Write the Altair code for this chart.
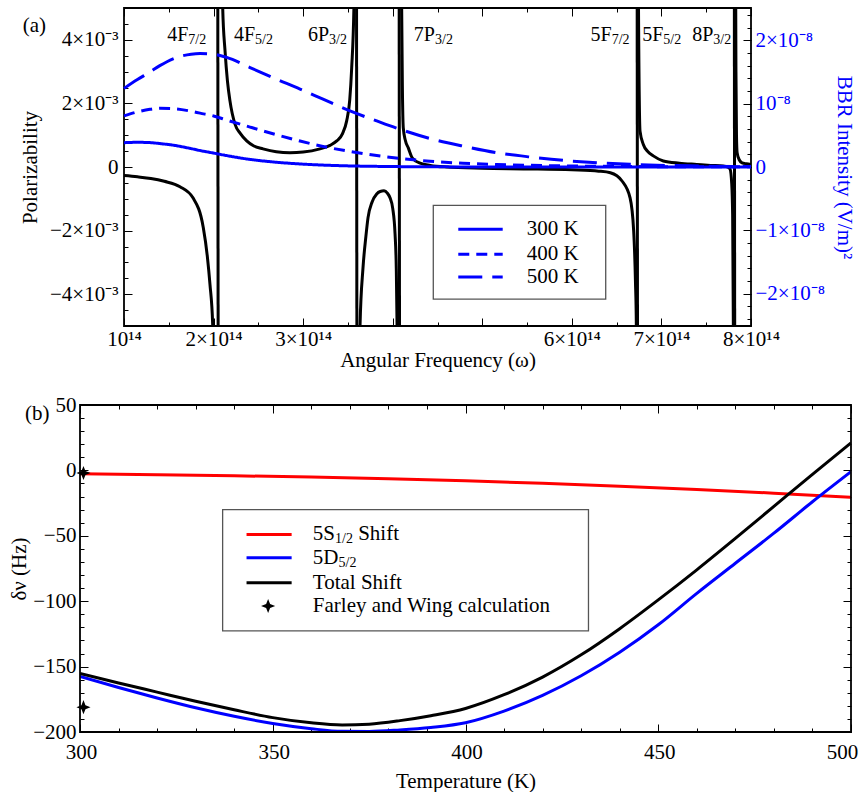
import altair as alt
import pandas as pd

FONT = "Liberation Serif"
LFONT = "Liberation Serif, Times New Roman, serif"
FS = 21

# ---------------- panel (a): polarizability (black), branches between resonances ----------------
pol_w_0 = [1.00e14, 1.15e14, 1.30e14, 1.45e14, 1.625e14, 1.77e14, 1.885e14, 1.93e14, 1.96e14, 1.99e14, 2.005e14]
pol_a_0 = [-0.27e-3, -0.31e-3, -0.36e-3, -0.45e-3, -0.62e-3, -0.97e-3, -1.9e-3, -2.8e-3, -3.7e-3, -4.95e-3, -8e-3]
pol_w_1 = [2.046e14, 2.052e14]
pol_a_1 = [8e-3, -8e-3]
pol_w_2 = [2.095e14, 2.102e14, 2.128e14, 2.155e14, 2.183e14, 2.239e14, 2.30e14, 2.37e14, 2.45e14, 2.552e14,
           2.70e14, 2.853e14, 3.00e14, 3.188e14, 3.30e14, 3.375e14, 3.44e14, 3.486e14, 3.52e14, 3.542e14, 3.568e14, 3.575e14]
pol_a_2 = [8e-3, 5.0e-3, 3.65e-3, 2.7e-3, 2.08e-3, 1.35e-3, 1.05e-3, 0.82e-3, 0.66e-3, 0.57e-3,
           0.48e-3, 0.45e-3, 0.47e-3, 0.57e-3, 0.68e-3, 0.82e-3, 1.05e-3, 1.45e-3, 2.1e-3, 3.12e-3, 5.2e-3, 8e-3]
pol_w_3 = [3.595e14, 3.601e14]
pol_a_3 = [8e-3, -8e-3]
pol_w_4 = [3.628e14, 3.635e14, 3.668e14, 3.70e14, 3.724e14, 3.77e14, 3.821e14, 3.86e14, 3.903e14, 3.94e14,
           3.97e14, 4.00e14, 4.026e14, 4.04e14, 4.048e14, 4.055e14]
pol_a_4 = [-8e-3, -5.0e-3, -3.18e-3, -2.2e-3, -1.6e-3, -1.1e-3, -0.85e-3, -0.77e-3, -0.75e-3, -0.82e-3,
           -0.97e-3, -1.3e-3, -2.1e-3, -3.2e-3, -4.9e-3, -8e-3]
pol_w_5 = [4.071e14, 4.077e14]
pol_a_5 = [8e-3, -8e-3]
pol_w_6 = [4.095e14, 4.100e14, 4.108e14, 4.118e14, 4.14e14, 4.174e14, 4.22e14, 4.305e14, 4.42e14, 4.6e14,
           5.0e14, 5.5e14, 6.0e14, 6.3e14, 6.43e14, 6.56e14, 6.65e14, 6.69e14, 6.71e14, 6.72e14, 6.725e14]
pol_a_6 = [8e-3, 5.0e-3, 2.5e-3, 1.23e-3, 0.85e-3, 0.6e-3, 0.28e-3, 0.12e-3, 0.05e-3, 0.0,
           -0.04e-3, -0.06e-3, -0.09e-3, -0.13e-3, -0.18e-3, -0.44e-3, -0.97e-3, -2.0e-3, -3.6e-3, -5.0e-3, -8e-3]
pol_w_7 = [6.728e14, 6.734e14]
pol_a_7 = [8e-3, -8e-3]
pol_w_8 = [6.738e14, 6.744e14, 6.761e14, 6.798e14, 6.85e14, 6.909e14, 7.021e14, 7.2e14, 7.394e14, 7.55e14,
           7.688e14, 7.74e14, 7.766e14, 7.785e14, 7.795e14, 7.803e14, 7.807e14]
pol_a_8 = [8e-3, 5.0e-3, 1.13e-3, 0.71e-3, 0.48e-3, 0.35e-3, 0.19e-3, 0.12e-3, 0.08e-3, 0.05e-3,
           0.03e-3, 0.0, -0.06e-3, -0.53e-3, -1.5e-3, -5.0e-3, -8e-3]
pol_w_9 = [7.813e14, 7.819e14]
pol_a_9 = [8e-3, -8e-3]
pol_w_10 = [7.826e14, 7.832e14, 7.838e14, 7.845e14, 7.87e14, 7.9e14, 7.95e14, 8.0e14]
pol_a_10 = [8e-3, 3.0e-3, 1.0e-3, 0.45e-3, 0.22e-3, 0.13e-3, 0.1e-3, 0.08e-3]

# resonance labels
res_main = ["4F", "4F", "6P", "7P", "5F", "5F", "8P"]
res_sub = ["7/2", "5/2", "3/2", "3/2", "7/2", "5/2", "3/2"]
res_w = [1.718e14, 2.463e14, 3.289e14, 4.472e14, 6.445e14, 7.021e14, 7.579e14]
res_a = [3.96e-3] * 7

# BBR intensity (blue)
bbr_w = [1.0e14, 1.15e14, 1.29e14, 1.40e14, 1.569e14, 1.75e14, 1.849e14, 2.0e14, 2.147e14, 2.407e14, 2.663e14,
         2.965e14, 3.222e14, 3.523e14, 3.821e14, 4.08e14, 4.416e14, 4.785e14, 5.161e14, 5.533e14, 5.901e14,
         6.278e14, 6.649e14, 7.319e14, 8.0e14]
bbr_300 = [0.384e-8, 0.39e-8, 0.385e-8, 0.37e-8, 0.34e-8, 0.29e-8, 0.26e-8, 0.22e-8, 0.18e-8, 0.12e-8, 0.08e-8,
           0.048e-8, 0.03e-8, 0.017e-8, 0.01e-8, 0.006e-8, 0.003e-8, 0.0015e-8, 0.0008e-8, 0.0004e-8, 0.0002e-8,
           0.0001e-8, 0.0, 0.0, 0.0]
bbr_400 = [0.806e-8, 0.87e-8, 0.91e-8, 0.927e-8, 0.92e-8, 0.88e-8, 0.85e-8, 0.806e-8, 0.74e-8, 0.63e-8, 0.525e-8,
           0.41e-8, 0.325e-8, 0.245e-8, 0.18e-8, 0.135e-8, 0.09e-8, 0.06e-8, 0.04e-8, 0.027e-8, 0.018e-8,
           0.012e-8, 0.008e-8, 0.004e-8, 0.002e-8]
bbr_500 = [1.24e-8, 1.38e-8, 1.50e-8, 1.60e-8, 1.72e-8, 1.78e-8, 1.79e-8, 1.78e-8, 1.73e-8, 1.57e-8, 1.41e-8,
           1.23e-8, 1.07e-8, 0.885e-8, 0.727e-8, 0.596e-8, 0.45e-8, 0.33e-8, 0.226e-8, 0.158e-8, 0.105e-8,
           0.068e-8, 0.042e-8, 0.018e-8, 0.007e-8]
temps = ["300 K", "400 K", "500 K"]

# legend (a), placed in data coordinates of the BBR axis
leg_a_box_w = [4.453e14, 6.378e14]
leg_a_box_b = [-0.605e-8, -2.085e-8]
leg_a_line_w = [4.732e14, 5.228e14]
leg_a_text_w = 5.496e14
leg_a_rows = [-0.984e-8, -1.379e-8, -1.738e-8]

# ---------------- panel (b): frequency shift vs temperature ----------------
t_red = [300, 320, 340, 360, 380, 400, 420, 440, 460, 480, 500]
v_red = [-2.6, -3.3, -4.1, -5.1, -6.4, -8.0, -9.9, -12.1, -14.6, -17.4, -20.5]
t_bt = [300, 310, 320, 330, 340, 350, 360, 368, 375, 383, 391, 400, 410, 420, 430, 440, 450, 460, 470, 480,
        490, 500]
v_blue = [-157.5, -166, -174, -181.5, -188, -193.5, -197.5, -199.5, -199.6, -198.4, -196.5, -192.9, -184, -172,
          -157, -139, -118, -94, -71, -48, -24, -1]
v_black = [-155.3, -162.5, -169.5, -176.5, -183, -189, -193, -194.6, -194, -191.3, -187.5, -182, -171.5, -158,
           -141, -121, -99, -76, -52, -27.5, -3, 21]
series = ["5S1/2 Shift", "5D5/2", "Total Shift"]
farley_t = [300.9, 300.9]
farley_v = [-181, -2]

leg_b_box_t = [337.0, 431.9]
leg_b_box_v = [-29.95, -122.7]
leg_b_line_t = [343.2, 354.9]
leg_b_star_t = 348.8
leg_b_text_t = 360.4
leg_b_rows = [-49.0, -66.8, -85.9, -103.7]
leg_b_main = ["5S", "5D", "Total Shift", "Farley and Wing calculation"]

STAR = "M0,-1L0.28,-0.28L1,0L0.28,0.28L0,1L-0.28,0.28L-1,0L-0.28,-0.28Z"


def ax(orient, values, size, shift=0, labels=False, **kw):
    d = dict(orient=orient, values=values, tickSize=size, offset=-(size + shift), domain=False, grid=False,
             ticks=True, tickColor="black", tickWidth=1, labels=labels, labelOverlap=False,
             labelFont=LFONT, labelFontSize=FS, titleFont=FONT, titleFontSize=FS, titleFontWeight="normal")
    if not labels:
        d["title"] = None
    d.update(kw)
    return alt.Axis(**d)


# ---------------- build panel (a) ----------------
pol_ws = [pol_w_0, pol_w_1, pol_w_2, pol_w_3, pol_w_4, pol_w_5, pol_w_6, pol_w_7, pol_w_8, pol_w_9, pol_w_10]
pol_as = [pol_a_0, pol_a_1, pol_a_2, pol_a_3, pol_a_4, pol_a_5, pol_a_6, pol_a_7, pol_a_8, pol_a_9, pol_a_10]
pol_df = pd.concat([pd.DataFrame({"w": w, "a": a, "seg": i}) for i, (w, a) in enumerate(zip(pol_ws, pol_as))])
res_df = pd.DataFrame({"w": res_w, "a": res_a, "main": res_main, "sub": res_sub})
bbr_df = pd.concat([pd.DataFrame({"w": bbr_w, "b": v, "temp": t}) for t, v in zip(temps, [bbr_300, bbr_400, bbr_500])])

xs_a = alt.Scale(domain=[1e14, 8e14], range=[44, 671], nice=False, zero=False)
ys_a = alt.Scale(domain=[-5e-3, 5e-3], nice=False, zero=False)
yb_a = alt.Scale(domain=[-2.51e-8, 2.51e-8], nice=False, zero=False)
dash_scale = alt.Scale(domain=temps, range=[[1, 0], [11, 7], [24, 10]])

maj_w = [k * 1e14 for k in range(1, 9)]
min_w = [(k + 0.5) * 1e14 for k in range(1, 8)]
maj_a = [-4e-3, -2e-3, 0, 2e-3, 4e-3]
min_a = [k * 0.5e-3 for k in range(-9, 10)]
maj_b = [-2e-8, -1e-8, 0, 1e-8, 2e-8]
min_b = [k * 0.2e-8 for k in range(-12, 13)]

xlab_a = ("round(datum.value/1e14) == 1 ? '10\u00b9\u2074' : (round(datum.value/1e14) == 4 || "
          "round(datum.value/1e14) == 5) ? '' : round(datum.value/1e14) + '\u00d710\u00b9\u2074'")
ylab_a = ("datum.value == 0 ? '0' : (datum.value < 0 ? '\u2212' : '') + round(abs(datum.value)*1e3) + "
          "'\u00d710\u207b\u00b3'")
ylab_b = ("round(datum.value*1e8) == 0 ? '0' : round(datum.value*1e8) == 1 ? '10\u207b\u2078' : "
          "(datum.value < 0 ? '\u2212' : '') + round(abs(datum.value)*1e8) + '\u00d710\u207b\u2078'")

p_curve = alt.Chart(pol_df).mark_line(color="black", strokeWidth=3, clip=True, interpolate="monotone").encode(
    x=alt.X("w:Q", scale=xs_a, axis=ax("bottom", maj_w, 8, labels=True, labelExpr=xlab_a, labelPadding=2.5,
                                        labelFlush=False, title="Angular Frequency (\u03c9)", titlePadding=0)),
    y=alt.Y("a:Q", scale=ys_a, axis=ax("left", maj_a, 8, shift=44, labels=True, labelExpr=ylab_a,
                                        labelPadding=6, title="Polarizability", titlePadding=9)),
    detail="seg:N",
)
p_res_main = alt.Chart(res_df).mark_text(align="right", baseline="alphabetic", fontSize=20, color="black").encode(
    x=alt.X("w:Q", scale=xs_a, axis=ax("bottom", min_w, 4)),
    y=alt.Y("a:Q", scale=ys_a, axis=ax("left", min_a, 4, shift=44)),
    text="main:N",
)
p_res_sub = alt.Chart(res_df).mark_text(align="left", baseline="alphabetic", fontSize=14, dy=2.5, color="black").encode(
    x=alt.X("w:Q", scale=xs_a, axis=ax("top", maj_w, 8)),
    y=alt.Y("a:Q", scale=ys_a, axis=None),
    text="sub:N",
)
p_tag = alt.Chart(pd.DataFrame({"w": [1e14], "a": [5e-3], "t": ["(a)"]})).mark_text(
    align="left", baseline="middle", fontSize=FS, dx=-101.3, dy=18, color="black").encode(
    x=alt.X("w:Q", scale=xs_a, axis=ax("top", min_w, 4)),
    y=alt.Y("a:Q", scale=ys_a, axis=None),
    text="t:N",
)
p_frame = alt.Chart(pd.DataFrame({"x0": [1e14], "x1": [8e14], "y0": [-5e-3], "y1": [5e-3]})).mark_rect(
    fillOpacity=0, stroke="black", strokeWidth=1.8).encode(
    x=alt.X("x0:Q", scale=xs_a, axis=None), x2="x1:Q",
    y=alt.Y("y0:Q", scale=ys_a, axis=None), y2="y1:Q",
)
pol_layer = alt.layer(p_curve, p_res_main, p_res_sub, p_tag, p_frame).resolve_axis(x="independent", y="independent")

b_curves = alt.Chart(bbr_df).mark_line(color="blue", strokeWidth=3, clip=True, interpolate="monotone").encode(
    x=alt.X("w:Q", scale=xs_a, axis=None),
    y=alt.Y("b:Q", scale=yb_a, axis=ax("right", maj_b, 8, labels=True, labelExpr=ylab_b, labelColor="blue",
                                        labelPadding=4, title="BBR Intensity (V/m)\u00b2", titleColor="blue",
                                        titlePadding=9)),
    strokeDash=alt.StrokeDash("temp:N", scale=dash_scale, legend=None),
)
b_box = alt.Chart(pd.DataFrame({"x0": [leg_a_box_w[0]], "x1": [leg_a_box_w[1]],
                                "y0": [leg_a_box_b[0]], "y1": [leg_a_box_b[1]]})).mark_rect(
    fill="white", stroke="#555555", strokeWidth=1.3).encode(
    x=alt.X("x0:Q", scale=xs_a, axis=None), x2="x1:Q",
    y=alt.Y("y0:Q", scale=yb_a, axis=ax("right", min_b, 4)), y2="y1:Q",
)
leg_a_df = pd.DataFrame({"x0": [leg_a_line_w[0]] * 3, "x1": [leg_a_line_w[1]] * 3, "xt": [leg_a_text_w] * 3,
                         "y": leg_a_rows, "temp": temps})
b_leg_lines = alt.Chart(leg_a_df).mark_rule(color="blue", strokeWidth=3).encode(
    x=alt.X("x0:Q", scale=xs_a, axis=None), x2="x1:Q",
    y=alt.Y("y:Q", scale=yb_a, axis=None),
    strokeDash=alt.StrokeDash("temp:N", scale=dash_scale, legend=None),
)
b_leg_text = alt.Chart(leg_a_df).mark_text(align="left", baseline="middle", fontSize=FS, color="black").encode(
    x=alt.X("xt:Q", scale=xs_a, axis=None),
    y=alt.Y("y:Q", scale=yb_a, axis=None),
    text="temp:N",
)
bbr_layer = alt.layer(b_curves, b_box, b_leg_lines, b_leg_text).resolve_axis(x="independent", y="independent")

top = alt.layer(pol_layer, bbr_layer).resolve_scale(y="independent").resolve_axis(
    x="independent", y="independent").properties(width=671, height=318)

# ---------------- build panel (b) ----------------
shift_df = pd.concat([
    pd.DataFrame({"T": t_red, "v": v_red, "s": series[0]}),
    pd.DataFrame({"T": t_bt, "v": v_blue, "s": series[1]}),
    pd.DataFrame({"T": t_bt, "v": v_black, "s": series[2]}),
])
xs_b = alt.Scale(domain=[300, 500], nice=False, zero=False)
ys_b = alt.Scale(domain=[-200, 50], nice=False, zero=False)
col_scale = alt.Scale(domain=series, range=["#ff0000", "#0000ff", "#000000"])
maj_t = [300, 350, 400, 450, 500]
min_t = list(range(310, 500, 10))
maj_v = [-200, -150, -100, -50, 0, 50]
min_v = list(range(-190, 50, 10))

q_lines = alt.Chart(shift_df).mark_line(strokeWidth=3, clip=True, interpolate="monotone").encode(
    x=alt.X("T:Q", scale=xs_b, axis=ax("bottom", maj_t, 8, labels=True, format="d", labelPadding=9,
                                        labelFlush=False,
                                        labelOffset={"condition": {"test": "datum.value == 500", "value": -9},
                                                     "value": 1},
                                        title="Temperature (K)", titlePadding=8)),
    y=alt.Y("v:Q", scale=ys_b, axis=ax("left", maj_v, 8, labels=True, format="d", labelPadding=4,
                                        title="\u03b4\u03bd (Hz)", titlePadding=3)),
    color=alt.Color("s:N", scale=col_scale, legend=None),
)
q_pts = alt.Chart(pd.DataFrame({"T": farley_t, "v": farley_v})).mark_point(
    shape=STAR, size=200, filled=True, color="black", opacity=1).encode(
    x=alt.X("T:Q", scale=xs_b, axis=ax("bottom", min_t, 4)),
    y=alt.Y("v:Q", scale=ys_b, axis=ax("left", min_v, 4)),
)
q_box = alt.Chart(pd.DataFrame({"x0": [leg_b_box_t[0]], "x1": [leg_b_box_t[1]],
                                "y0": [leg_b_box_v[0]], "y1": [leg_b_box_v[1]]})).mark_rect(
    fill="white", stroke="#555555", strokeWidth=1.3).encode(
    x=alt.X("x0:Q", scale=xs_b, axis=ax("top", maj_t, 8)), x2="x1:Q",
    y=alt.Y("y0:Q", scale=ys_b, axis=ax("right", maj_v, 8)), y2="y1:Q",
)
leg_b_lines_df = pd.DataFrame({"x0": [leg_b_line_t[0]] * 3, "x1": [leg_b_line_t[1]] * 3,
                               "y": leg_b_rows[:3], "s": series})
q_leg_lines = alt.Chart(leg_b_lines_df).mark_rule(strokeWidth=3).encode(
    x=alt.X("x0:Q", scale=xs_b, axis=ax("top", min_t, 4)), x2="x1:Q",
    y=alt.Y("y:Q", scale=ys_b, axis=ax("right", min_v, 4)),
    color=alt.Color("s:N", scale=col_scale, legend=None),
)
q_leg_star = alt.Chart(pd.DataFrame({"T": [leg_b_star_t], "v": [leg_b_rows[3]]})).mark_point(
    shape=STAR, size=200, filled=True, color="black", opacity=1).encode(
    x=alt.X("T:Q", scale=xs_b, axis=None),
    y=alt.Y("v:Q", scale=ys_b, axis=None),
)
leg_b_text_df = pd.DataFrame({"T": [leg_b_text_t] * 4, "v": leg_b_rows, "t": leg_b_main})
q_leg_text = alt.Chart(leg_b_text_df).mark_text(align="left", baseline="middle", fontSize=FS, color="black").encode(
    x=alt.X("T:Q", scale=xs_b, axis=None),
    y=alt.Y("v:Q", scale=ys_b, axis=None),
    text="t:N",
)
q_sub1 = alt.Chart(pd.DataFrame({"T": [leg_b_text_t], "v": [leg_b_rows[0]], "t": ["1/2"]})).mark_text(
    align="left", baseline="middle", fontSize=14, dx=22.2, dy=5, color="black").encode(
    x=alt.X("T:Q", scale=xs_b, axis=None), y=alt.Y("v:Q", scale=ys_b, axis=None), text="t:N")
q_sub2 = alt.Chart(pd.DataFrame({"T": [leg_b_text_t], "v": [leg_b_rows[1]], "t": ["5/2"]})).mark_text(
    align="left", baseline="middle", fontSize=14, dx=25.7, dy=5, color="black").encode(
    x=alt.X("T:Q", scale=xs_b, axis=None), y=alt.Y("v:Q", scale=ys_b, axis=None), text="t:N")
q_suffix = alt.Chart(pd.DataFrame({"T": [leg_b_text_t], "v": [leg_b_rows[0]], "t": ["Shift"]})).mark_text(
    align="left", baseline="middle", fontSize=FS, dx=45.3, color="black").encode(
    x=alt.X("T:Q", scale=xs_b, axis=None), y=alt.Y("v:Q", scale=ys_b, axis=None), text="t:N")
q_tag = alt.Chart(pd.DataFrame({"T": [300], "v": [50], "t": ["(b)"]})).mark_text(
    align="left", baseline="middle", fontSize=FS, dx=-55, dy=9, color="black").encode(
    x=alt.X("T:Q", scale=xs_b, axis=None), y=alt.Y("v:Q", scale=ys_b, axis=None), text="t:N")
q_frame = alt.Chart(pd.DataFrame({"x0": [300], "x1": [500], "y0": [-200], "y1": [50]})).mark_rect(
    fillOpacity=0, stroke="black", strokeWidth=1.8).encode(
    x=alt.X("x0:Q", scale=xs_b, axis=None), x2="x1:Q",
    y=alt.Y("y0:Q", scale=ys_b, axis=None), y2="y1:Q",
)

bottom = alt.layer(q_lines, q_pts, q_box, q_leg_lines, q_leg_star, q_leg_text, q_sub1, q_sub2, q_suffix,
                   q_tag, q_frame).resolve_axis(x="independent", y="independent").properties(width=771, height=327)

chart = alt.vconcat(top, bottom, spacing=79, bounds="flush").properties(
    padding={"left": 8, "top": 6, "right": 0, "bottom": 0}
).configure(
    font=FONT,
    style={"guide-label": {"font": LFONT, "fontSize": FS, "fill": "black"},
           "guide-title": {"font": FONT, "fontSize": FS}},
).configure_view(stroke="transparent").configure_axis(
    labelFont=LFONT, titleFont=FONT, labelFontSize=FS, titleFontSize=FS, titleFontWeight="normal",
    labelColor="black", titleColor="black"
)

chart.save("out.html", embed_options={"renderer": "svg", "actions": False})
